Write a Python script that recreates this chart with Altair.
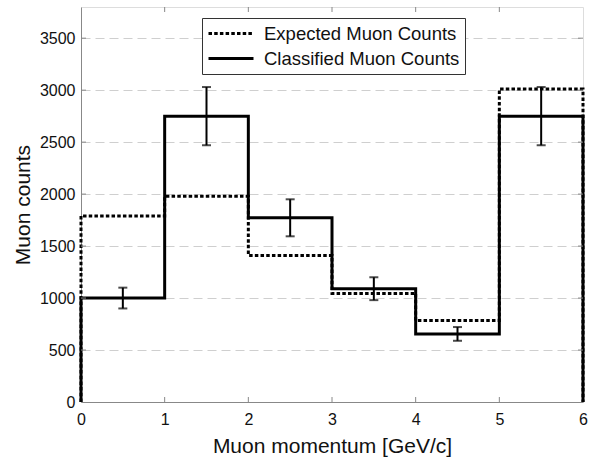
import altair as alt
import pandas as pd

# ---- data ----
bin_edges = [0, 1, 2, 3, 4, 5, 6]
expected = [1790, 1980, 1410, 1045, 785, 3010]
classified = [1000, 2750, 1772, 1090, 655, 2750]
errors = [100, 280, 178, 110, 66, 280]
x_ticks = [0, 1, 2, 3, 4, 5, 6]
y_ticks = [0, 500, 1000, 1500, 2000, 2500, 3000, 3500]
series_names = ["Expected Muon Counts", "Classified Muon Counts"]

W, H = 502, 395
FONT = "Liberation Sans"


def step_rows(name, vals):
    rows = [{"series": name, "x": bin_edges[0], "y": 0}]
    for i, v in enumerate(vals):
        rows.append({"series": name, "x": bin_edges[i], "y": v})
        rows.append({"series": name, "x": bin_edges[i + 1], "y": v})
    rows.append({"series": name, "x": bin_edges[-1], "y": 0})
    for k, r in enumerate(rows):
        r["order"] = k
    return rows


steps = pd.DataFrame(step_rows(series_names[0], expected) + step_rows(series_names[1], classified))
err = pd.DataFrame({
    "center": [(bin_edges[i] + bin_edges[i + 1]) / 2 for i in range(len(classified))],
    "lo": [c - e for c, e in zip(classified, errors)],
    "hi": [c + e for c, e in zip(classified, errors)],
})
xt = pd.DataFrame({"x": x_ticks[1:-1]})
yt = pd.DataFrame({"y": y_ticks[1:]})

xscale = alt.Scale(domain=[0, 6], nice=False, zero=False)
yscale = alt.Scale(domain=[0, 3800], nice=False)

dash_scale = alt.Scale(domain=series_names, range=[[3.5, 2.2], [1, 0]])

legend = alt.Legend(
    title=None, orient="none", legendX=121, legendY=11,
    symbolType="stroke", symbolSize=2025, symbolStrokeWidth=3,
    symbolStrokeColor="black", clipHeight=21, rowPadding=4, padding=5,
    labelFont=FONT, labelFontSize=18.5, labelColor="#111", labelOffset=9, labelLimit=400,
    strokeColor="#333", fillColor="white", symbolOffset=0,
)

xaxis = alt.Axis(values=x_ticks, title="Muon momentum [GeV/c]", grid=False, ticks=False,
                 labelFont=FONT, labelFontSize=16, labelColor="#111", labelPadding=9,
                 labelFlush=False,
                 titleFont=FONT, titleFontSize=21, titleFontWeight="normal", titleColor="#111",
                 titlePadding=8, domainColor="#888", format="d")
yaxis = alt.Axis(values=y_ticks, title="Muon counts", grid=True, ticks=False,
                 gridDash=[9, 5], gridColor="#cfcfcf", gridWidth=1,
                 labelFont=FONT, labelFontSize=16, labelColor="#111", labelPadding=6,
                 labelFlush=False,
                 titleFont=FONT, titleFontSize=21, titleFontWeight="normal", titleColor="#111",
                 titlePadding=6, domainColor="#888", format="d")


def X(field):
    return alt.X(field, type="quantitative", scale=xscale, axis=xaxis)


def Y(field):
    return alt.Y(field, type="quantitative", scale=yscale, axis=yaxis)


def line_layer(name):
    return alt.Chart(steps).transform_filter(alt.datum.series == name).mark_line(
        strokeWidth=3, color="black", strokeCap="butt", strokeJoin="miter"
    ).encode(
        x=X("x"),
        y=Y("y"),
        order="order:Q",
        strokeDash=alt.StrokeDash("series:N", scale=dash_scale, legend=legend),
    )


expected_layer = line_layer(series_names[0])
classified_layer = line_layer(series_names[1])

err_base = alt.Chart(err)
err_lines = err_base.mark_rule(color="black", strokeWidth=2).encode(
    x=X("center"), y=Y("lo"), y2="hi:Q",
)
err_lo = err_base.mark_tick(color="black", thickness=2, size=9, orient="horizontal").encode(
    x=X("center"), y=Y("lo"),
)
err_hi = err_base.mark_tick(color="black", thickness=2, size=9, orient="horizontal").encode(
    x=X("center"), y=Y("hi"),
)

tick_style = dict(color="#888", strokeWidth=1)
top_ticks = alt.Chart(xt).mark_rule(**tick_style).encode(
    x=X("x"), y=alt.value(0), y2=alt.value(5))
bottom_ticks = alt.Chart(xt).mark_rule(**tick_style).encode(
    x=X("x"), y=alt.value(H), y2=alt.value(H - 5))
right_ticks = alt.Chart(yt).mark_rule(**tick_style).encode(
    y=Y("y"), x=alt.value(W), x2=alt.value(W - 5))
left_ticks = alt.Chart(yt).mark_rule(**tick_style).encode(
    y=Y("y"), x=alt.value(0), x2=alt.value(5))

chart = alt.layer(
    expected_layer, classified_layer, err_lines, err_lo, err_hi,
    top_ticks, bottom_ticks, right_ticks, left_ticks,
).properties(
    width=W, height=H,
    autosize=alt.AutoSizeParams(type="none"),
    padding={"left": 81, "top": 7, "right": 7, "bottom": 59},
).configure_view(stroke="#888", strokeWidth=1).configure(background="white")

chart.save("out.html", embed_options={"renderer": "svg", "actions": False})
